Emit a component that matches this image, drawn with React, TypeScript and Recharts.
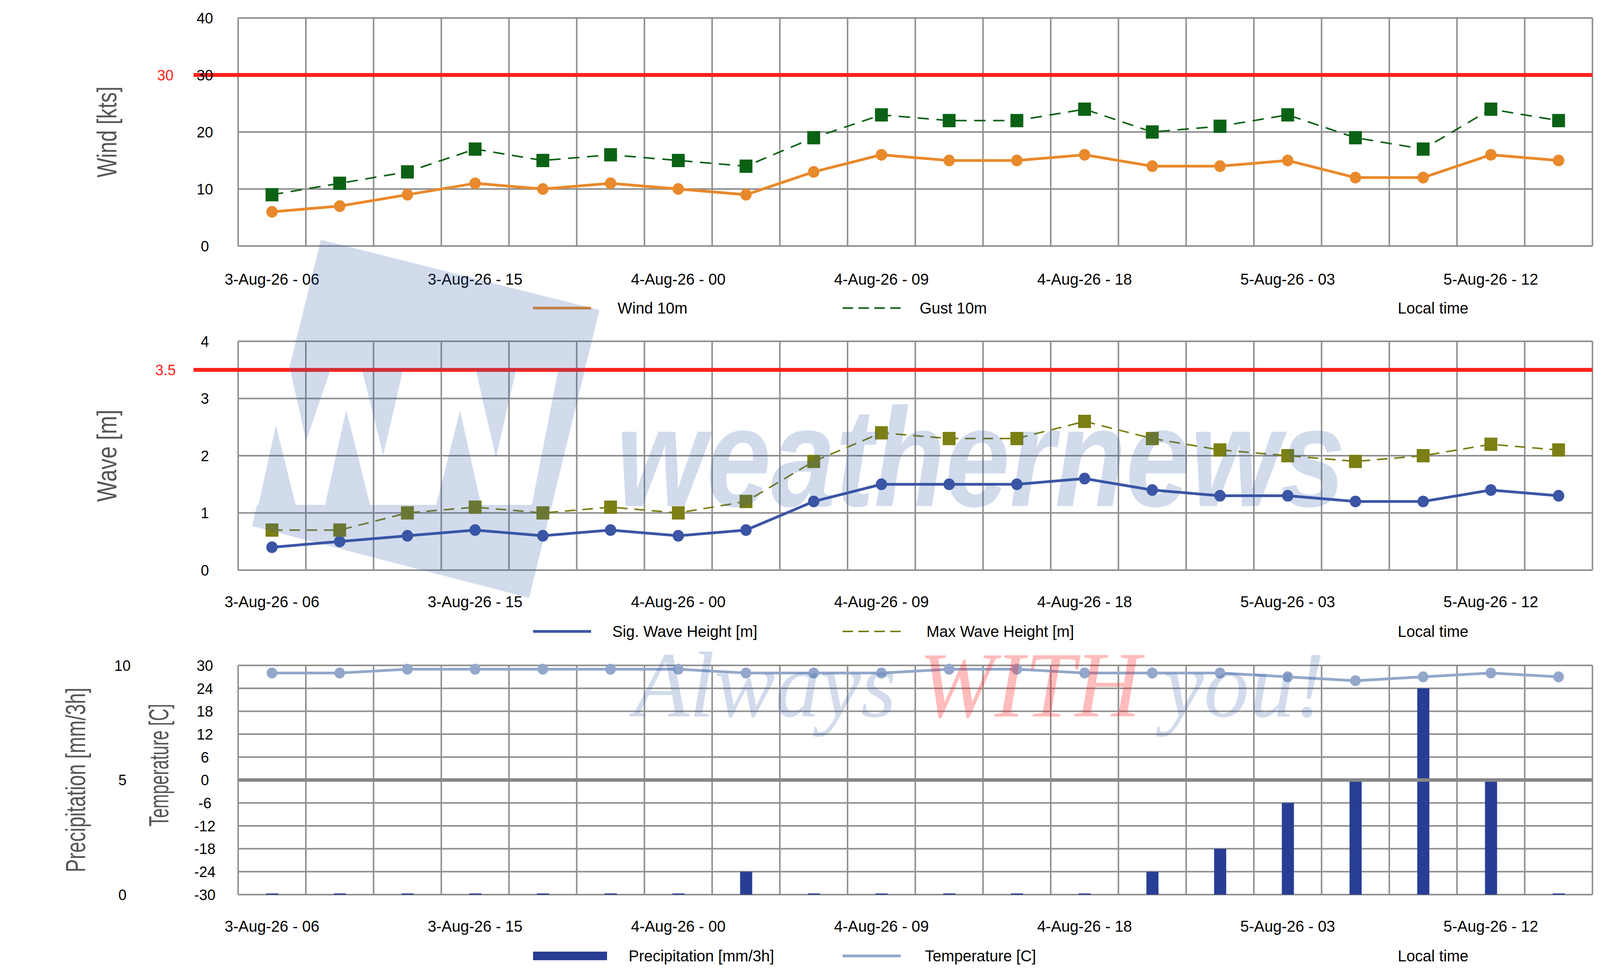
import React from "react";
import {
  Bar,
  CartesianGrid,
  ComposedChart,
  Legend,
  Line,
  ReferenceLine,
  XAxis,
  YAxis,
} from "recharts";

// 3-hourly forecast steps, local time
const times = [
  "3-Aug-26 - 06", "3-Aug-26 - 09", "3-Aug-26 - 12", "3-Aug-26 - 15", "3-Aug-26 - 18",
  "3-Aug-26 - 21", "4-Aug-26 - 00", "4-Aug-26 - 03", "4-Aug-26 - 06", "4-Aug-26 - 09",
  "4-Aug-26 - 12", "4-Aug-26 - 15", "4-Aug-26 - 18", "4-Aug-26 - 21", "5-Aug-26 - 00",
  "5-Aug-26 - 03", "5-Aug-26 - 06", "5-Aug-26 - 09", "5-Aug-26 - 12", "5-Aug-26 - 15",
];
const wind10m = [6, 7, 9, 11, 10, 11, 10, 9, 13, 16, 15, 15, 16, 14, 14, 15, 12, 12, 16, 15];
const gust10m = [9, 11, 13, 17, 15, 16, 15, 14, 19, 23, 22, 22, 24, 20, 21, 23, 19, 17, 24, 22];
const sigWave = [0.4, 0.5, 0.6, 0.7, 0.6, 0.7, 0.6, 0.7, 1.2, 1.5, 1.5, 1.5, 1.6, 1.4, 1.3, 1.3, 1.2, 1.2, 1.4, 1.3];
const maxWave = [0.7, 0.7, 1.0, 1.1, 1.0, 1.1, 1.0, 1.2, 1.9, 2.4, 2.3, 2.3, 2.6, 2.3, 2.1, 2.0, 1.9, 2.0, 2.2, 2.1];
const precipitation = [0, 0, 0, 0, 0, 0, 0, 1, 0, 0, 0, 0, 0, 1, 2, 4, 5, 9, 5, 0];
const temperature = [28, 28, 29, 29, 29, 29, 29, 28, 28, 28, 29, 29, 28, 28, 28, 27, 26, 27, 28, 27];

const windTicks = [0, 10, 20, 30, 40];
const waveTicks = [0, 1, 2, 3, 4];
const tempTicks = [-30, -24, -18, -12, -6, 0, 6, 12, 18, 24, 30];
const precipTicks = [0, 5, 10];
const windLimit = 30;
const waveLimit = 3.5;

const rows = times.map((time, i) => ({
  time,
  wind: wind10m[i],
  gust: gust10m[i],
  sig: sigWave[i],
  max: maxWave[i],
  precip: precipitation[i],
  temp: temperature[i],
}));

const W = 4233;
const H = 2502;
const FONT = "'Liberation Sans', Arial, Helvetica, sans-serif";
const GRID = "#8f8f8f";
const RED = "#ff2218";
const TITLE = "#555555";

// grid lines sit on the category boundaries, not on the points
const boundaries = ({ offset }: any) =>
  Array.from({ length: times.length + 1 }, (_, i) => offset.left + (offset.width * i) / times.length);

const squareDot = (color: string) => (p: any) =>
  <rect key={`sq-${p.index}`} x={p.cx - 17} y={p.cy - 17} width={34} height={34} fill={color} />;

const axisTitle = (text: string, dx: number, len: number, dy = 0) => (p: any) => {
  const vb = p.viewBox || { x: 0, y: 0, width: 0, height: 0 };
  const cx = vb.x + dx;
  const cy = vb.y + vb.height / 2 + dy;
  return (
    <text
      transform={`translate(${cx},${cy}) rotate(-90)`}
      textAnchor="middle"
      dominantBaseline="central"
      fontSize={72}
      fill={TITLE}
      textLength={len}
      lengthAdjust="spacingAndGlyphs"
    >
      {text}
    </text>
  );
};

const limitLine = (p: any) => (
  <line x1={p.x1 - 118} y1={p.y1} x2={p.x2} y2={p.y2} stroke={RED} strokeWidth={10} />
);

type LegendSpec = { icon: "line" | "dash" | "bar"; iconLeft: number; iconWidth: number; textLeft: number };

const legendContent = (specs: Record<string, LegendSpec>) => ({ payload }: any) => (
  <div style={{ position: "relative", width: W, height: 60, fontSize: 41, color: "#000", fontFamily: FONT }}>
    {(payload || []).map((e: any) => {
      const s = specs[e.value];
      if (!s) return null;
      return (
        <React.Fragment key={e.value}>
          <svg style={{ position: "absolute", left: s.iconLeft, top: 0 }} width={s.iconWidth} height={60}>
            {s.icon === "bar" ? (
              <rect x={0} y={19} width={s.iconWidth} height={22} fill={e.color} />
            ) : (
              <line
                x1={0}
                x2={s.iconWidth}
                y1={30}
                y2={30}
                stroke={e.color}
                strokeWidth={s.icon === "dash" ? 4 : 7}
                strokeDasharray={s.icon === "dash" ? "28 14" : undefined}
              />
            )}
          </svg>
          <span style={{ position: "absolute", left: s.textLeft, top: 0, lineHeight: "60px", whiteSpace: "nowrap" }}>
            {e.value}
          </span>
        </React.Fragment>
      );
    })}
    <span style={{ position: "absolute", left: 3698, top: 0, lineHeight: "60px", whiteSpace: "nowrap" }}>
      Local time
    </span>
  </div>
);

const xAxisProps = (height: number, tickMargin: number) => ({
  dataKey: "time",
  scale: "band" as const,
  interval: 2,
  tickLine: false,
  axisLine: false,
  height,
  tickMargin,
  tick: { fontSize: 41, fill: "#000" },
});

const yTick = { fontSize: 39, fill: "#000", textAnchor: "middle" };

function WindChart() {
  return (
    <ComposedChart width={W} height={830} data={rows} margin={{ top: 46, right: 20, bottom: 0, left: 0 }}>
      <CartesianGrid stroke={GRID} strokeWidth={4} verticalCoordinatesGenerator={boundaries} />
      <XAxis {...xAxisProps(200, 64)} />
      <YAxis
        type="number"
        domain={[0, 40]}
        ticks={windTicks}
        width={630}
        tickLine={false}
        axisLine={false}
        tickMargin={82}
        tick={yTick}
        label={{ content: axisTitle("Wind [kts]", 283, 233) }}
      />
      <Line
        dataKey="wind"
        name="Wind 10m"
        stroke="#e8892b"
        strokeWidth={7}
        dot={{ r: 15, fill: "#e8892b", strokeWidth: 0 }}
        activeDot={false}
        isAnimationActive={false}
      />
      <Line
        dataKey="gust"
        name="Gust 10m"
        stroke="#0b6215"
        strokeWidth={4}
        strokeDasharray="30 20"
        dot={squareDot("#0b6215")}
        activeDot={false}
        isAnimationActive={false}
      />
      <ReferenceLine
        y={windLimit}
        shape={limitLine}
        label={{ value: String(windLimit), position: "left", offset: 171, fill: RED, fontSize: 39 }}
      />
      <Legend
        verticalAlign="middle"
        align="center"
        layout="horizontal"
        wrapperStyle={{ top: 759, left: 0, width: W, height: 60 }}
        content={legendContent({
          "Wind 10m": { icon: "line", iconLeft: 1410, iconWidth: 154, textLeft: 1634 },
          "Gust 10m": { icon: "dash", iconLeft: 2229, iconWidth: 154, textLeft: 2433 },
        })}
      />
    </ComposedChart>
  );
}

function WaveChart() {
  return (
    <ComposedChart width={W} height={830} data={rows} margin={{ top: 54, right: 20, bottom: 0, left: 0 }}>
      <CartesianGrid stroke={GRID} strokeWidth={4} verticalCoordinatesGenerator={boundaries} />
      <XAxis {...xAxisProps(190, 60)} />
      <YAxis
        type="number"
        domain={[0, 4]}
        ticks={waveTicks}
        width={630}
        tickLine={false}
        axisLine={false}
        tickMargin={82}
        tick={yTick}
        label={{ content: axisTitle("Wave [m]", 283, 236) }}
      />
      <Line
        dataKey="sig"
        name="Sig. Wave Height [m]"
        stroke="#3b55a5"
        strokeWidth={7}
        dot={{ r: 15, fill: "#3b55a5", strokeWidth: 0 }}
        activeDot={false}
        isAnimationActive={false}
      />
      <Line
        dataKey="max"
        name="Max Wave Height [m]"
        stroke="#7c7f14"
        strokeWidth={4}
        strokeDasharray="28 18"
        dot={squareDot("#7c7f14")}
        activeDot={false}
        isAnimationActive={false}
      />
      <ReferenceLine
        y={waveLimit}
        shape={limitLine}
        label={{ value: String(waveLimit), position: "left", offset: 165, fill: RED, fontSize: 39 }}
      />
      <Legend
        verticalAlign="middle"
        align="center"
        layout="horizontal"
        wrapperStyle={{ top: 767, left: 0, width: W, height: 60 }}
        content={legendContent({
          "Sig. Wave Height [m]": { icon: "line", iconLeft: 1410, iconWidth: 154, textLeft: 1620 },
          "Max Wave Height [m]": { icon: "dash", iconLeft: 2229, iconWidth: 154, textLeft: 2451 },
        })}
      />
    </ComposedChart>
  );
}

// left y-axes are stacked by id: "a-temp" sits next to the plot, "b-rain" outside it
const TEMP_AXIS = "a-temp";
const RAIN_AXIS = "b-rain";

function RainTempChart() {
  return (
    <ComposedChart width={W} height={852} data={rows} margin={{ top: 54, right: 20, bottom: 0, left: 0 }}>
      <CartesianGrid stroke={GRID} strokeWidth={4} yAxisId={TEMP_AXIS} verticalCoordinatesGenerator={boundaries} />
      <XAxis {...xAxisProps(211, 60)} />
      <YAxis
        yAxisId={TEMP_AXIS}
        type="number"
        domain={[-30, 30]}
        ticks={tempTicks}
        width={300}
        tickLine={false}
        axisLine={false}
        tickMargin={82}
        tick={yTick}
        label={{ content: axisTitle("Temperature [C]", 91, 314, -38) }}
      />
      <YAxis
        yAxisId={RAIN_AXIS}
        type="number"
        domain={[0, 10]}
        ticks={precipTicks}
        width={330}
        tickLine={false}
        axisLine={false}
        tickMargin={0}
        tick={yTick}
        label={{ content: axisTitle("Precipitation [mm/3h]", 200, 473) }}
      />
      <ReferenceLine yAxisId={TEMP_AXIS} y={0} stroke="#888888" strokeWidth={9} />
      <Bar
        yAxisId={RAIN_AXIS}
        dataKey="precip"
        name="Precipitation [mm/3h]"
        fill="#273e94"
        barSize={32}
        minPointSize={3}
        isAnimationActive={false}
      />
      <Line
        yAxisId={TEMP_AXIS}
        dataKey="temp"
        name="Temperature [C]"
        stroke="#93a7cb"
        strokeWidth={7}
        dot={{ r: 14, fill: "#93a7cb", strokeWidth: 0 }}
        activeDot={false}
        isAnimationActive={false}
      />
      <Legend
        verticalAlign="middle"
        align="center"
        layout="horizontal"
        wrapperStyle={{ top: 768, left: 0, width: W, height: 60 }}
        content={legendContent({
          "Precipitation [mm/3h]": { icon: "bar", iconLeft: 1410, iconWidth: 196, textLeft: 1663 },
          "Temperature [C]": { icon: "line", iconLeft: 2229, iconWidth: 154, textLeft: 2447 },
        })}
      />
    </ComposedChart>
  );
}

// faint "WN weathernews / Always WITH you!" watermark laid over the charts
const logoPoints =
  "849,614 1586,794 1400,1531 667,1347 680,1293 684,1293 730,1089 782,1293 860,1293 916,1049 " +
  "979,1293 1154,1293 1217,1052 1273,1293 1407,1293 1477,948 1365,948 1312,1173 1259,948 " +
  "1066,948 1014,1166 958,948 874,948 810,1129 768,948 764,948";

function Watermark() {
  return (
    <svg width={W} height={H} style={{ position: "absolute", left: 0, top: 0, pointerEvents: "none" }}>
      <polygon points={logoPoints} fill="#2f5aa8" fillOpacity={0.22} />
      <text
        x={1630}
        y={1296}
        fontFamily={FONT}
        fontWeight="bold"
        fontStyle="italic"
        fontSize={360}
        textLength={1929}
        lengthAdjust="spacingAndGlyphs"
        fill="#2f5aa8"
        fillOpacity={0.22}
      >
        weathernews
      </text>
      <text
        x={1677}
        y={1835}
        fontFamily="'Liberation Serif', 'Times New Roman', serif"
        fontStyle="italic"
        fontSize={239}
        textLength={1828}
        lengthAdjust="spacingAndGlyphs"
      >
        <tspan fill="#2f5aa8" fillOpacity={0.22}>Always </tspan>
        <tspan fill="#ff2020" fillOpacity={0.3}>WITH </tspan>
        <tspan fill="#2f5aa8" fillOpacity={0.22}>you!</tspan>
      </text>
    </svg>
  );
}

export default function App() {
  // the browser caps the viewport below 4233px, so squeeze the drawing to fit across it
  const viewW = typeof window !== "undefined" && window.innerWidth ? window.innerWidth : W;
  const k = Math.min(1, viewW / W);
  return (
    <div style={{ width: Math.round(W * k), height: H, overflow: "hidden", background: "#fff" }}>
      <style>{"body{margin:0}"}</style>
      <div
        style={{
          position: "relative",
          width: W,
          height: H,
          fontFamily: FONT,
          transform: `scaleX(${k})`,
          transformOrigin: "0 0",
        }}
      >
        <div style={{ position: "absolute", left: 0, top: 0 }}>
          <WindChart />
        </div>
        <div style={{ position: "absolute", left: 0, top: 820 }}>
          <WaveChart />
        </div>
        <div style={{ position: "absolute", left: 0, top: 1650 }}>
          <RainTempChart />
        </div>
        <Watermark />
      </div>
    </div>
  );
}
